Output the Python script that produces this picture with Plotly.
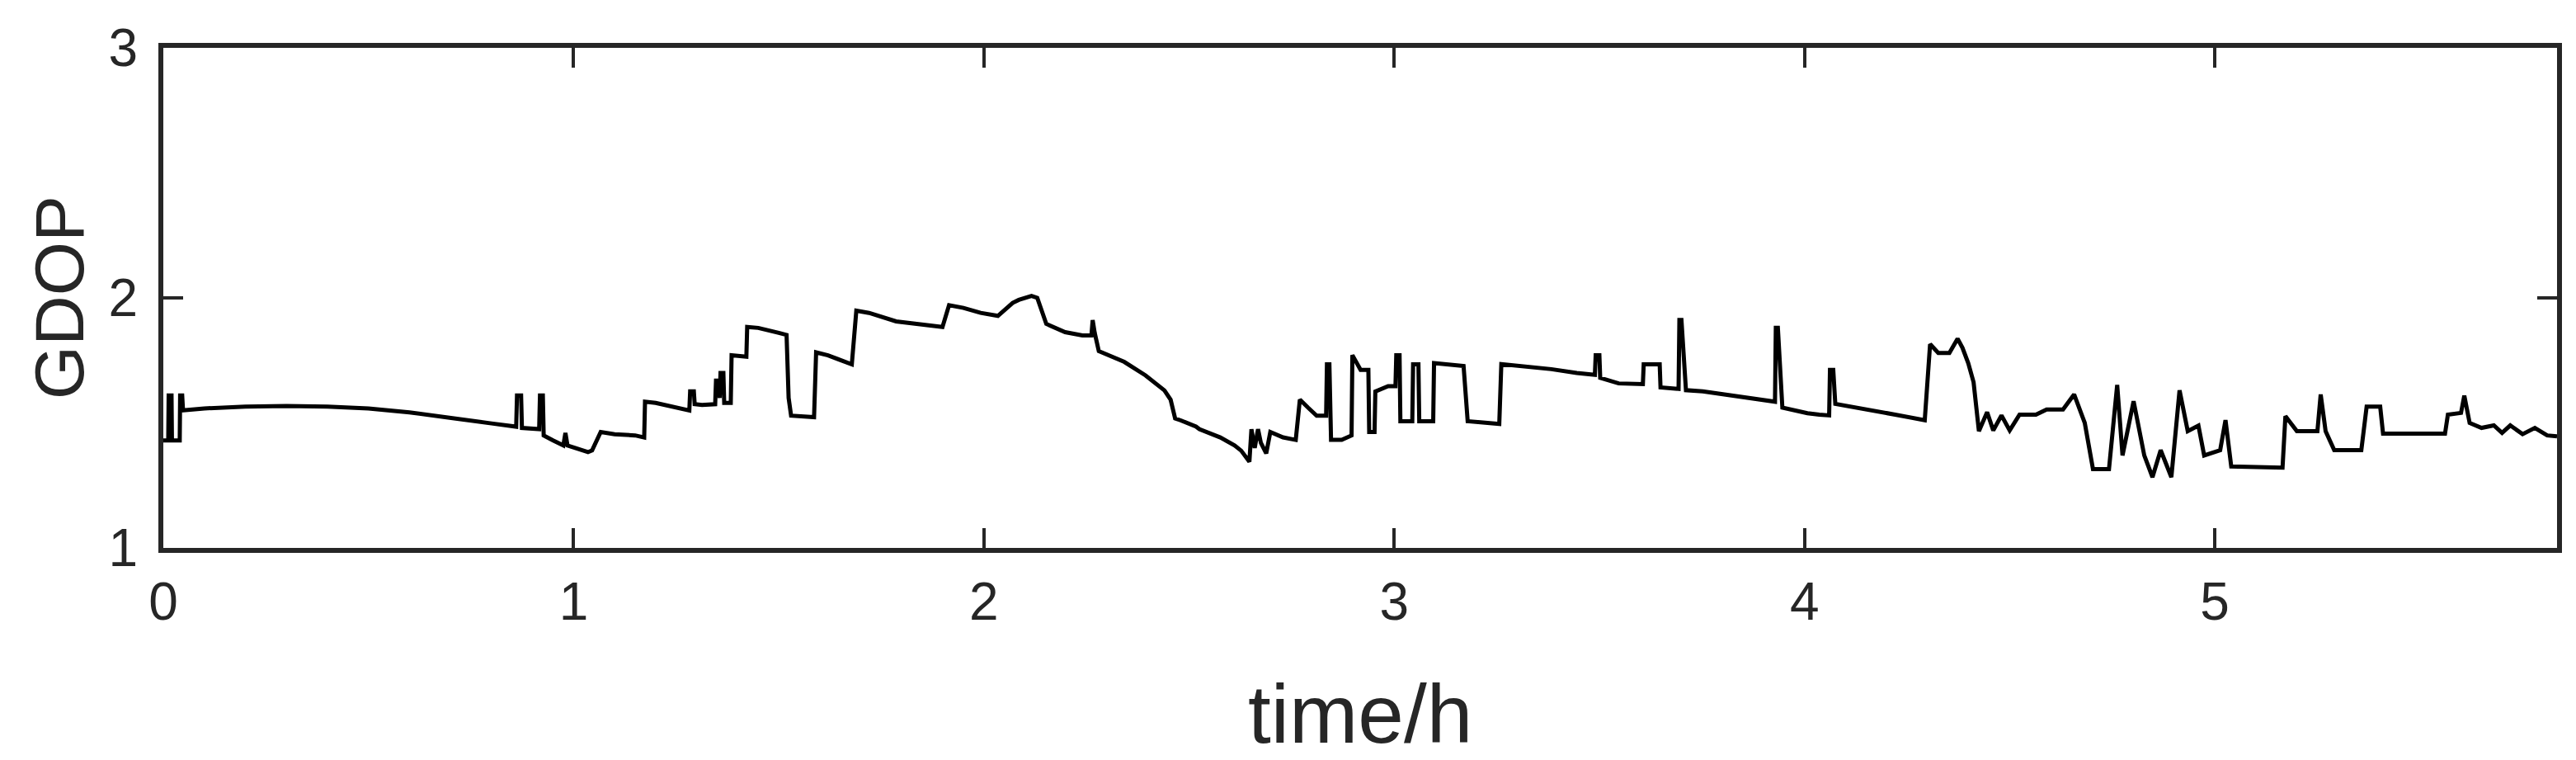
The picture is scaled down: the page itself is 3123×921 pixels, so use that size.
import plotly.graph_objects as go

# ---- data ----
time_h = [
    0.000, 0.012, 0.013, 0.020, 0.021, 0.040, 0.041, 0.046, 0.048, 0.10, 0.20, 0.30, 0.40, 0.50, 0.60, 0.70, 0.80,
    0.860, 0.862, 0.872, 0.874, 0.916, 0.918, 0.925, 0.927, 0.95, 0.975, 0.980, 0.985, 1.004, 1.035, 1.045, 1.066,
    1.10, 1.15, 1.172, 1.174, 1.20, 1.24, 1.282, 1.284, 1.293, 1.295, 1.313, 1.345, 1.347, 1.352, 1.354, 1.356,
    1.358, 1.365, 1.367, 1.383, 1.385, 1.421, 1.423, 1.45, 1.50, 1.519, 1.524, 1.530, 1.586, 1.591, 1.62, 1.678,
    1.689, 1.72, 1.786, 1.85, 1.899, 1.915, 1.95, 1.992, 2.034, 2.07, 2.085, 2.116, 2.13, 2.152, 2.198, 2.240,
    2.262, 2.265, 2.270, 2.280, 2.342, 2.394, 2.440, 2.455, 2.466, 2.48, 2.517, 2.525, 2.576, 2.611, 2.627, 2.647,
    2.652, 2.660, 2.668, 2.675, 2.688, 2.698, 2.729, 2.760, 2.770, 2.790, 2.811, 2.834, 2.836, 2.842, 2.846, 2.872,
    2.896, 2.898, 2.918, 2.937, 2.939, 2.952, 2.954, 2.985, 3.003, 3.005, 3.013, 3.015, 3.044, 3.046, 3.059, 3.061,
    3.095, 3.097, 3.169, 3.179, 3.256, 3.261, 3.383, 3.445, 3.489, 3.491, 3.500, 3.502, 3.547, 3.606, 3.608, 3.647,
    3.649, 3.693, 3.695, 3.700, 3.711, 3.752, 3.824, 3.890, 3.928, 3.930, 3.935, 3.946, 4.007, 4.036, 4.060, 4.062,
    4.070, 4.075, 4.115, 4.221, 4.293, 4.306, 4.326, 4.353, 4.373, 4.385, 4.399, 4.412, 4.425, 4.445, 4.46, 4.48,
    4.50, 4.524, 4.564, 4.590, 4.630, 4.657, 4.683, 4.703, 4.742, 4.762, 4.775, 4.802, 4.828, 4.848, 4.868, 4.894,
    4.914, 4.934, 4.960, 4.974, 5.013, 5.026, 5.040, 5.165, 5.172, 5.20, 5.250, 5.258, 5.270, 5.291, 5.357, 5.370,
    5.403, 5.410, 5.561, 5.568, 5.600, 5.608, 5.621, 5.65, 5.68, 5.70, 5.72, 5.75, 5.78, 5.81, 5.834,
]
gdop = [
    1.43, 1.43, 1.61, 1.61, 1.43, 1.43, 1.61, 1.61, 1.55, 1.558, 1.565, 1.568, 1.565, 1.558, 1.542, 1.522, 1.498,
    1.485, 1.61, 1.61, 1.48, 1.475, 1.61, 1.61, 1.45, 1.43, 1.41, 1.46, 1.41, 1.40, 1.383, 1.39, 1.464,
    1.455, 1.45, 1.442, 1.585, 1.58, 1.565, 1.550, 1.626, 1.626, 1.575, 1.572, 1.575, 1.669, 1.669, 1.60, 1.60,
    1.70, 1.70, 1.58, 1.58, 1.771, 1.765, 1.884, 1.88, 1.86, 1.852, 1.60, 1.529, 1.523, 1.782, 1.77, 1.734,
    1.949, 1.94, 1.906, 1.895, 1.884, 1.971, 1.96, 1.94, 1.928, 1.98, 1.992, 2.008, 2.0, 1.896, 1.863, 1.850,
    1.85, 1.911, 1.86, 1.787, 1.744, 1.690, 1.63, 1.593, 1.518, 1.51, 1.485, 1.475, 1.442, 1.410, 1.389, 1.345,
    1.475, 1.40, 1.475, 1.42, 1.378, 1.464, 1.442, 1.432, 1.593, 1.561, 1.529, 1.529, 1.734, 1.734, 1.432, 1.432,
    1.45, 1.771, 1.712, 1.712, 1.464, 1.464, 1.626, 1.647, 1.647, 1.771, 1.771, 1.507, 1.507, 1.734, 1.734, 1.507,
    1.507, 1.739, 1.728, 1.507, 1.496, 1.735, 1.715, 1.700, 1.692, 1.771, 1.771, 1.680, 1.658, 1.655, 1.734, 1.734,
    1.642, 1.636, 1.912, 1.912, 1.631, 1.626, 1.609, 1.592, 1.585, 1.880, 1.880, 1.561, 1.539, 1.533, 1.53, 1.712,
    1.712, 1.576, 1.565, 1.533, 1.511, 1.815, 1.78, 1.78, 1.837, 1.80, 1.739, 1.663, 1.467, 1.543, 1.47, 1.53,
    1.47, 1.533, 1.533, 1.554, 1.554, 1.614, 1.50, 1.315, 1.315, 1.652, 1.370, 1.587, 1.370, 1.283, 1.391, 1.283,
    1.630, 1.467, 1.489, 1.370, 1.391, 1.511, 1.326, 1.321, 1.527, 1.467, 1.467, 1.614, 1.467, 1.391, 1.391, 1.565,
    1.565, 1.457, 1.457, 1.533, 1.54, 1.609, 1.50, 1.48, 1.49, 1.46, 1.49, 1.455, 1.48, 1.45, 1.446,
]
x_ticks = [0, 1, 2, 3, 4, 5]
y_ticks = [1, 2, 3]
x_range = [0, 5.834]
y_range = [1, 3]
x_title = "time/h"
y_title = "GDOP"

FONT = "Liberation Sans, Arial, Helvetica, sans-serif"
AXC = "#262626"

fig = go.Figure()
fig.add_trace(go.Scatter(x=time_h, y=gdop, mode="lines",
                         line=dict(color="black", width=5), showlegend=False))

axis_common = dict(
    showline=True, linewidth=6, linecolor=AXC, mirror="ticks",
    ticks="inside", ticklen=24, tickwidth=4, tickcolor=AXC,
    showgrid=False, zeroline=False,
    tickfont=dict(family=FONT, size=64, color=AXC),
)

fig.update_xaxes(range=x_range, tickvals=x_ticks, ticktext=[str(v) for v in x_ticks],
                 ticklabelstandoff=4, **axis_common)
fig.update_yaxes(range=y_range, tickvals=y_ticks, ticktext=[str(v) for v in y_ticks],
                 ticklabelstandoff=12, **axis_common)

fig.add_annotation(text=x_title, xref="paper", yref="paper", x=0.5, y=-0.3317,
                   xanchor="center", yanchor="middle", showarrow=False,
                   font=dict(family=FONT, size=100, color=AXC))
fig.add_annotation(text=y_title, xref="paper", yref="paper", x=-0.0433, y=0.5,
                   xanchor="center", yanchor="middle", showarrow=False, textangle=-90,
                   font=dict(family=FONT, size=84, color=AXC))

fig.update_layout(
    width=3123, height=921,
    margin=dict(l=190, r=31, t=50, b=265, pad=0),
    paper_bgcolor="white", plot_bgcolor="white",
)

fig.write_html("out.html")
